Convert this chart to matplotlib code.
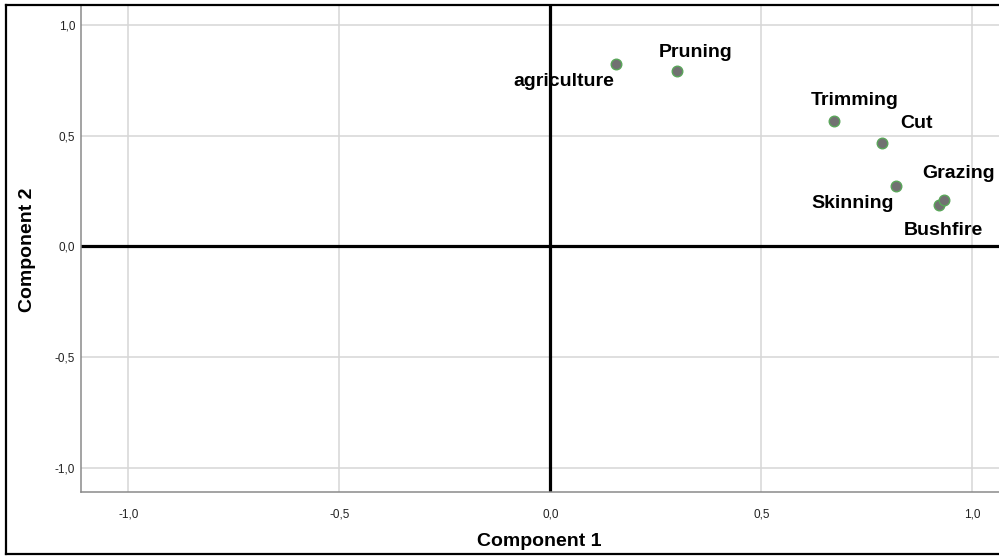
import matplotlib
matplotlib.use("Agg")
import matplotlib.pyplot as plt
from matplotlib.lines import Line2D
from matplotlib.ticker import FixedLocator, FuncFormatter

plt.rcParams['font.family'] = ['Liberation Sans', 'DejaVu Sans']

# ---- data ----
variables = ["agriculture", "Pruning", "Trimming", "Cut", "Skinning", "Bushfire", "Grazing"]
component1 = [0.155, 0.300, 0.673, 0.786, 0.819, 0.922, 0.932]
component2 = [0.826, 0.792, 0.569, 0.469, 0.275, 0.189, 0.211]
tick_values = [-1.0, -0.5, 0.0, 0.5, 1.0]
x_title = "Component 1"
y_title = "Component 2"

# label offsets in pixels (dx, dy) relative to the point
label_offsets_px = {
    "agriculture": (-52, -18),
    "Pruning": (19, 19),
    "Trimming": (20, 20),
    "Cut": (34, 19),
    "Skinning": (-43, -18),
    "Bushfire": (4, -26),
    "Grazing": (15, 26),
}

W, H, DPI = 999, 556, 100
fig = plt.figure(figsize=(W / DPI, H / DPI), dpi=DPI)
left_px, right_px, top_px, bottom_px = 80.7, 999, 5, 491.7
ax = fig.add_axes([left_px / W, 1 - bottom_px / H,
                   (right_px - left_px) / W, (bottom_px - top_px) / H])

ax.set_xlim(-1.113, 1.063)
ax.set_ylim(-1.109, 1.092)

ax.xaxis.set_major_locator(FixedLocator(tick_values))
ax.yaxis.set_major_locator(FixedLocator(tick_values))
fmt = FuncFormatter(lambda v, p: f"{v:.1f}".replace(".", ","))
ax.xaxis.set_major_formatter(fmt)
ax.yaxis.set_major_formatter(fmt)
ax.tick_params(axis='both', length=0, labelsize=8.5, colors='#222222')
ax.tick_params(axis='x', pad=12)
ax.tick_params(axis='y', pad=4)

ax.grid(True, color='#d6d6d6', linewidth=1.1, zorder=0)
ax.set_axisbelow(True)

for s in ['top', 'right']:
    ax.spines[s].set_visible(False)
for s in ['left', 'bottom']:
    ax.spines[s].set_color('#8a8a8a')
    ax.spines[s].set_linewidth(1.1)

ax.axhline(0, color='black', linewidth=2.3, zorder=2)
ax.axvline(0, color='black', linewidth=2.3, zorder=2)

ax.scatter(component1, component2, s=58, facecolor='#717171',
           edgecolor='#5aa65a', linewidth=1.0, zorder=4)

for name, x, y in zip(variables, component1, component2):
    dx, dy = label_offsets_px[name]
    ax.annotate(name, (x, y), xytext=(dx * 72 / DPI, dy * 72 / DPI),
                textcoords='offset points', ha='center', va='center',
                fontsize=14, fontweight='bold', color='black', zorder=5,
                annotation_clip=False)

ax.set_xlabel(x_title, fontsize=14, fontweight='bold')
ax.set_ylabel(y_title, fontsize=14, fontweight='bold')
ax.xaxis.label.set_va('center')
ax.yaxis.label.set_va('center')
ax.xaxis.set_label_coords(0.5 - 0.7 / (right_px - left_px), -(542 - bottom_px) / (bottom_px - top_px))
ax.yaxis.set_label_coords(-(left_px - 27) / (right_px - left_px), 0.5 - 1.0 / (bottom_px - top_px))

# outer frame (left, top, bottom)
bx0, by0, by1 = 6 / W, 1 - 4.5 / H, 1 - 554 / H
for xs, ys in [((bx0, bx0), (by1, by0)), ((bx0, 1.0), (by0, by0)), ((bx0, 1.0), (by1, by1))]:
    fig.add_artist(Line2D(xs, ys, transform=fig.transFigure, color='black', linewidth=1.6))

fig.savefig("out.png", dpi=DPI)
